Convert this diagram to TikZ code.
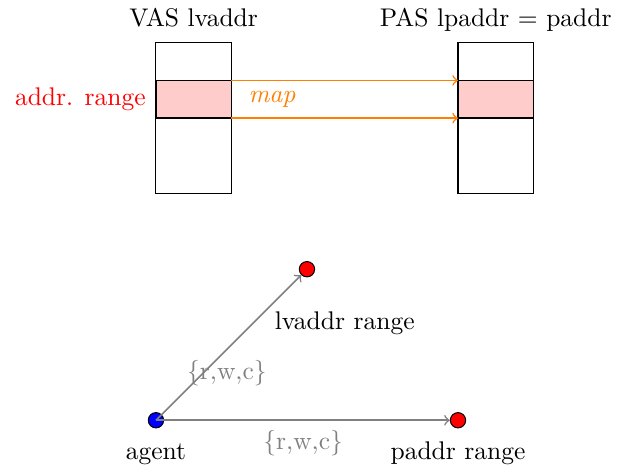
\documentclass[tikz,border=0pt]{standalone}
\tikzset{
  membox/.style={draw=black, line width=0.4pt},
  rangebox/.style={draw=black, fill=red!20, line width=0.6pt},
  maparrow/.style={draw=orange, ->, line width=0.6pt},
  accarrow/.style={draw=gray, ->, line width=0.6pt},
  rightsdot/.style={circle, draw=black, fill=#1, inner sep=0pt, minimum size=6pt, line width=0.4pt},
  rights/.style={text=gray}
}
\begin{document}
\begin{tikzpicture}[x=0.52cm, y=0.52cm]
  \useasboundingbox (-4.13,-1.43) rectangle (12.29,11.13);

  % virtual address space column
  \draw[membox] (0,6) rectangle (2,10);
  \draw[rangebox] (0,8) rectangle (2,9);
  \coordinate (vtr) at (2,9);
  \coordinate (vbr) at (2,8);
  \node[anchor=base] (vlabel) at (1,10.42) {VAS lvaddr};
  \node[anchor=east, text=red, inner sep=0pt] (rlabel) at (-0.26,8.5) {addr. range};

  % physical address space column
  \draw[membox] (8,6) rectangle (10,10);
  \draw[rangebox] (8,8) rectangle (10,9);
  \coordinate (ptl) at (8,9);
  \coordinate (pbl) at (8,8);
  \node[anchor=base] (plabel) at (9,10.42) {PAS lpaddr = paddr};

  % mapping of the range
  \draw[maparrow] (vtr) -- (ptl);
  \draw[maparrow] (vbr) -- (pbl);
  \node[text=orange, anchor=west, inner sep=0pt] (maplabel) at (2.44,8.5) {\textit{map}};

  % agent and the ranges it can access
  \node[rightsdot=blue] (agent) at (0,0) {};
  \node[rightsdot=red] (lv) at (4,4) {};
  \node[rightsdot=red] (pa) at (8,0) {};
  \node[anchor=base] (agentlabel) at (0,-1.03) {agent};
  \node[anchor=base] (lvlabel) at (5.0,2.41) {lvaddr range};
  \node[anchor=base] (palabel) at (8,-1.03) {paddr range};

  \draw[accarrow] (agent.center) -- (lv);
  \draw[accarrow] (agent.center) -- (pa);
  \node[rights] (r1) at (1.88,1.26) {\{r,w,c\}};
  \node[rights] (r2) at (3.9,-0.6) {\{r,w,c\}};
\end{tikzpicture}
\end{document}
